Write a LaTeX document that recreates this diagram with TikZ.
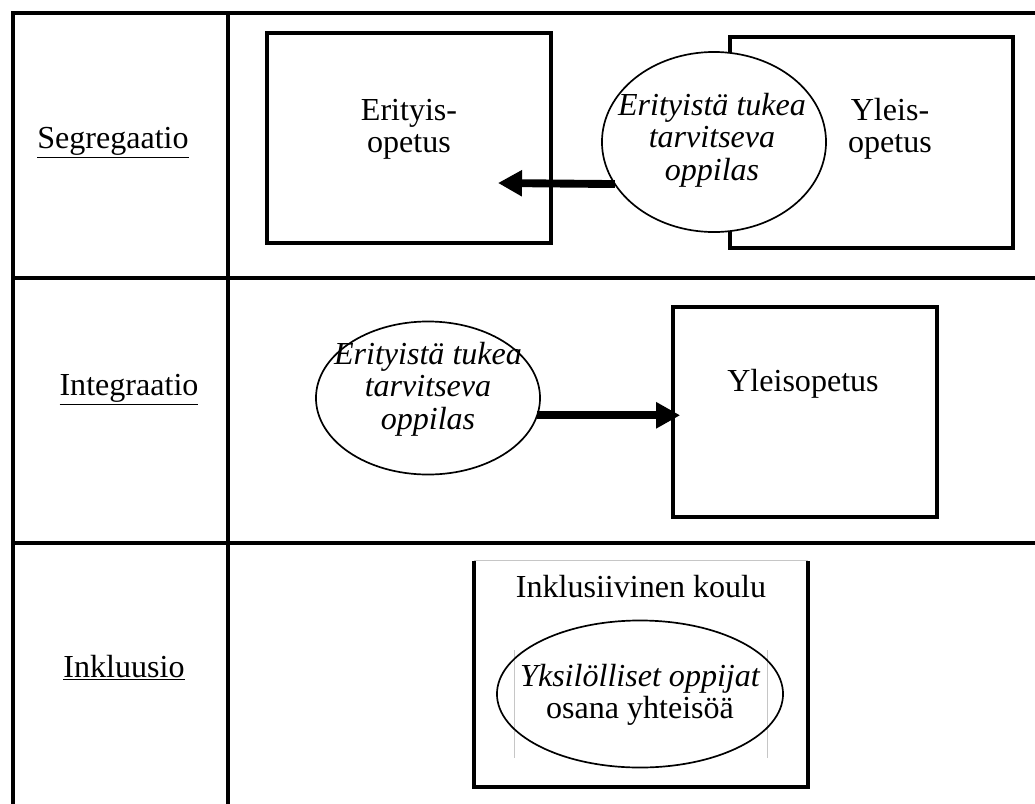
\documentclass[tikz,border=0pt]{standalone}
\usepackage{fontspec}
\setmainfont{Liberation Serif}
\usetikzlibrary{shapes.geometric}
\usetikzlibrary{arrows.meta}

\tikzset{
	taulukko/.style={line width=2.6pt},
	laatikko/.style={draw, line width=2.8pt, inner sep=0pt, outer sep=0pt},
	soikio/.style={draw, ellipse, fill=white, line width=1.2pt, inner sep=0pt, outer sep=0pt},
	teksti/.style={align=center, inner sep=0pt, font=\fontsize{22.8}{23}\selectfont},
	nuoli/.style={line width=5.6pt, -{Triangle[length=0.6cm, width=0.62cm]}},
	ohut/.style={line width=0.5pt, gray!45},
}

\newcommand{\otsikko}[4] % node name, x in px, baseline y in px, text
{
	\node[teksti, anchor=base] (#1) at (#2,#3) {\underline{#4}};
}

\begin{document}
\begin{tikzpicture}[x=0.025cm, y=-0.025cm]
	% 1035px x 804px, 1px = 0.25mm
	\useasboundingbox (0,0) rectangle (1035,804);
	% table
	\draw[taulukko] (13,804) -- (13,13) -- (1035,13);
	\draw[taulukko] (228,13) -- (228,804);
	\draw[taulukko] (13,278) -- (1035,278);
	\draw[taulukko] (13,543) -- (1035,543);
	% row titles
	\otsikko{seg}{113}{148}{Segregaatio};
	\otsikko{int}{129}{395}{Integraatio};
	\otsikko{inkl}{124}{677}{Inkluusio};
	% segregaatio
	\node[laatikko, minimum width=7.1cm, minimum height=5.25cm] (erityis) at (409,138) {};
	\node[laatikko, minimum width=7.075cm, minimum height=5.275cm] (yleis1) at (871.5,142.5) {};
	\node[teksti] (erityisteksti) at (409,129) {Erityis-\\opetus};
	\node[teksti] (yleis1teksti) at (890,129) {Yleis-\\opetus};
	\node[soikio, minimum width=5.6cm, minimum height=4.5cm] (oppilas1) at (714,142) {};
	\node[teksti] (oppilas1teksti) at (712,140) {\itshape Erityistä tukea\\\itshape tarvitseva\\\itshape oppilas};
	\coordinate (kohde1) at (498,183);
	\draw[nuoli] (oppilas1.203) -- (kohde1);
	% integraatio
	\node[laatikko, minimum width=6.6cm, minimum height=5.25cm] (yleis2) at (805,412) {};
	\node[teksti] (yleis2teksti) at (803,384) {Yleisopetus};
	\node[soikio, minimum width=5.6cm, minimum height=3.825cm] (oppilas2) at (428,398) {};
	\node[teksti] (oppilas2teksti) at (428,389) {\itshape Erityistä tukea\\\itshape tarvitseva\\\itshape oppilas};
	\draw[nuoli] (oppilas2.-9) -- ([xshift=0.18cm]oppilas2.-9 -| yleis2.west);
	% inkluusio
	\node[minimum width=8.35cm, minimum height=5.65cm, inner sep=0pt] (koulu) at (641,674) {};
	\draw[line width=2.8pt] (koulu.north west) -- (koulu.south west) -- (koulu.south east) -- (koulu.north east);
	\draw[ohut, line width=1pt] (koulu.north west) -- (koulu.north east);
	\node[teksti] (kouluteksti) at (641,587) {Inklusiivinen koulu};
	\draw[ohut] (514,650) -- (514,758);
	\draw[ohut] (767,650) -- (767,758);
	\node[soikio, fill=none, minimum width=7.15cm, minimum height=3.675cm] (yksilot) at (640,694) {};
	\node[teksti] (yksilotteksti) at (640,695) {\itshape Yksilölliset oppijat\\osana yhteisöä};
\end{tikzpicture}
\end{document}
